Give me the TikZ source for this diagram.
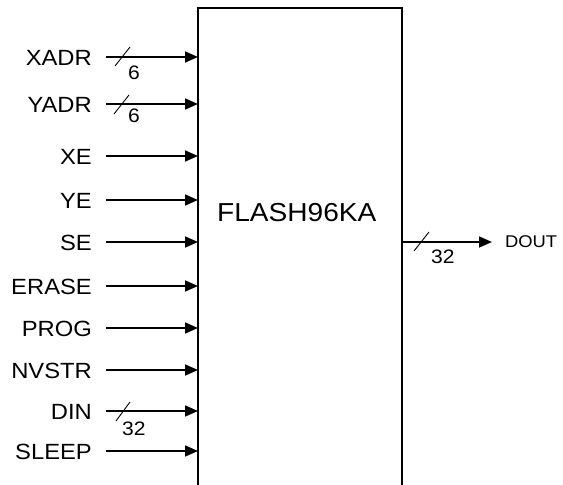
\documentclass[tikz,border=0pt]{standalone}
\usepackage{fontspec}
\setmainfont{Liberation Sans}
\newfontfamily\lblfont[FakeStretch=1.08]{Liberation Sans}
\usetikzlibrary{arrows.meta}
\tikzset{
  sig/.style={line width=1.7pt,-{Triangle[length=13pt,width=11pt]}},
  lbl/.style={inner sep=0pt,anchor=base east,font=\lblfont\fontsize{22}{22}\selectfont},
  buslbl/.style={inner sep=0pt,anchor=base west,font=\lblfont\fontsize{19.5}{19.5}\selectfont},
  busslash/.style={line width=0.9pt},
  boxline/.style={line width=2.2pt}
}
\begin{document}
\begin{tikzpicture}[x=1pt,y=-1pt]
\useasboundingbox (0,0) rectangle (563,485);
% block outline (open at bottom)
\coordinate (bl) at (198,487);
\coordinate (tl) at (198,8);
\coordinate (tr) at (402,8);
\coordinate (br) at (402,487);
\draw[boxline] (bl) -- (tl) -- (tr) -- (br);
\node[inner sep=0pt,anchor=base west,font=\lblfont\fontsize{26}{26}\selectfont] (title) at (217,221) {FLASH96KA};
% inputs
\foreach \n/\t/\y in {xadr/XADR/57, yadr/YADR/104, xe/XE/156, ye/YE/200, se/SE/242, erase/ERASE/286, prog/PROG/328, nvstr/NVSTR/370, din/DIN/411, sleep/SLEEP/451}{
  \node[lbl] (l\n) at (92,\y+8) {\t};
  \coordinate (s\n) at (106,\y);
  \coordinate (e\n) at (198,\y);
  \draw[sig] (s\n) -- (e\n);
}
% bus markers on inputs
\draw[busslash] (115,66) -- (130,47);
\node[buslbl] (nxadr) at (128,79) {6};
\draw[busslash] (114,114) -- (129,95);
\node[buslbl] (nyadr) at (128,122) {6};
\draw[busslash] (116,421) -- (130,402);
\node[buslbl] (ndin) at (122,435) {32};
% output
\coordinate (sdout) at (402,242);
\coordinate (edout) at (492,242);
\draw[sig] (sdout) -- (edout);
\draw[busslash] (414,251) -- (429,232);
\node[buslbl] (ndout) at (431,263) {32};
\node[inner sep=0pt,anchor=base west,font=\lblfont\fontsize{17}{17}\selectfont] (ldout) at (505,247) {DOUT};
\end{tikzpicture}
\end{document}
